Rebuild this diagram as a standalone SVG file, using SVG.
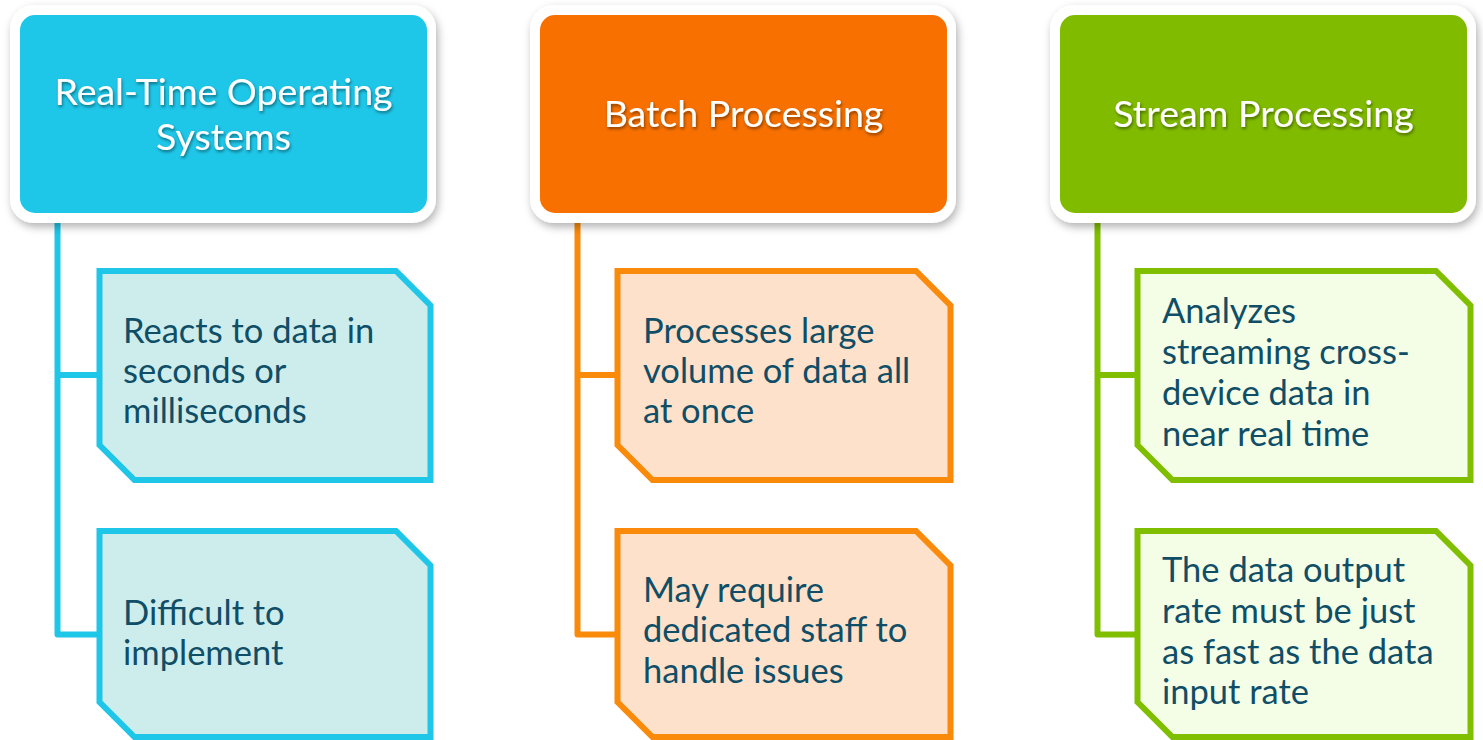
<svg xmlns="http://www.w3.org/2000/svg" width="1483" height="740" viewBox="0 0 1483 740">
  <defs>
    <filter id="frameShadow" x="-10%" y="-10%" width="120%" height="125%">
      <feDropShadow dx="2" dy="4" stdDeviation="4" flood-color="#000" flood-opacity="0.3"/>
    </filter>
    <filter id="textShadow" x="-10%" y="-30%" width="120%" height="160%">
      <feDropShadow dx="1" dy="2" stdDeviation="1.5" flood-color="#000" flood-opacity="0.45"/>
    </filter>
  </defs>
  <style>
    .frame { fill: #ffffff; filter: url(#frameShadow); }
    .head-text { font-family: Lato, "Liberation Sans", sans-serif; font-size: 37.5px; fill: #ffffff; text-anchor: middle; filter: url(#textShadow); }
    .card-text { font-family: Lato, "Liberation Sans", sans-serif; font-size: 34.5px; fill: #0f4e66; }
    .link { fill: none; stroke-width: 6; stroke-linejoin: round; }
    .card { stroke-width: 6; stroke-linejoin: miter; }
    .blue-head { fill: #1ec6e8; }
    .orange-head { fill: #f77000; }
    .green-head { fill: #80bb00; }
    .blue-card { fill: #cdecec; stroke: #1ec6e8; }
    .orange-card { fill: #fde1ca; stroke: #fa8a0a; }
    .green-card { fill: #f4fde6; stroke: #80be00; }
    .blue-link { stroke: #1ec6e8; }
    .orange-link { stroke: #fa8a0a; }
    .green-link { stroke: #80be00; }
  </style>

  <rect width="1483" height="740" fill="#ffffff"/>

  <!-- tree connectors -->
  <g id="connectors">
    <path class="link blue-link" d="M57.5,218 V634.5 H100 M57.5,375 H100"/>
    <path class="link orange-link" d="M577.5,218 V634.5 H618 M577.5,375 H618"/>
    <path class="link green-link" d="M1097.5,218 V634.5 H1138 M1097.5,375 H1138"/>
  </g>

  <!-- column headers -->
  <g id="head-rtos">
    <rect class="frame" x="10" y="5" width="426" height="218" rx="24"/>
    <rect class="blue-head" x="20" y="15" width="407" height="198" rx="15"/>
    <text class="head-text" x="223.5" y="105">Real-Time Operating</text>
    <text class="head-text" x="223.5" y="150">Systems</text>
  </g>
  <g id="head-batch">
    <rect class="frame" x="530" y="5" width="426" height="218" rx="24"/>
    <rect class="orange-head" x="540" y="15" width="407" height="198" rx="15"/>
    <text class="head-text" x="743.5" y="127">Batch Processing</text>
  </g>
  <g id="head-stream">
    <rect class="frame" x="1050" y="5" width="426" height="218" rx="24"/>
    <rect class="green-head" x="1060" y="15" width="407" height="198" rx="15"/>
    <text class="head-text" x="1263.5" y="127">Stream Processing</text>
  </g>

  <!-- detail cards -->
  <g id="rtos-1">
    <path class="card blue-card" d="M99.5,271 H396 L430.5,305.5 V480 H134.5 L99.5,445 Z"/>
    <text class="card-text" x="123" y="343">Reacts to data in</text>
    <text class="card-text" x="123" y="383">seconds or</text>
    <text class="card-text" x="123" y="423">milliseconds</text>
  </g>
  <g id="rtos-2">
    <path class="card blue-card" d="M99.5,531 H396 L430.5,565.5 V737 H134.5 L99.5,702 Z"/>
    <text class="card-text" x="123" y="625">Difficult to</text>
    <text class="card-text" x="123" y="665">implement</text>
  </g>
  <g id="batch-1">
    <path class="card orange-card" d="M617.5,271 H916 L950.5,305.5 V480 H652.5 L617.5,445 Z"/>
    <text class="card-text" x="643" y="343">Processes large</text>
    <text class="card-text" x="643" y="383">volume of data all</text>
    <text class="card-text" x="643" y="423">at once</text>
  </g>
  <g id="batch-2">
    <path class="card orange-card" d="M617.5,531 H916 L950.5,565.5 V737 H652.5 L617.5,702 Z"/>
    <text class="card-text" x="643" y="602">May require</text>
    <text class="card-text" x="643" y="642">dedicated staff to</text>
    <text class="card-text" x="643" y="683">handle issues</text>
  </g>
  <g id="stream-1">
    <path class="card green-card" d="M1137.5,271 H1436 L1470.5,305.5 V480 H1172.5 L1137.5,445 Z"/>
    <text class="card-text" x="1162" y="323">Analyzes</text>
    <text class="card-text" x="1162" y="364">streaming cross-</text>
    <text class="card-text" x="1162" y="405">device data in</text>
    <text class="card-text" x="1162" y="446">near real time</text>
  </g>
  <g id="stream-2">
    <path class="card green-card" d="M1137.5,531 H1436 L1470.5,565.5 V737 H1172.5 L1137.5,702 Z"/>
    <text class="card-text" x="1162" y="582">The data output</text>
    <text class="card-text" x="1162" y="623">rate must be just</text>
    <text class="card-text" x="1162" y="664">as fast as the data</text>
    <text class="card-text" x="1162" y="704">input rate</text>
  </g>
</svg>
